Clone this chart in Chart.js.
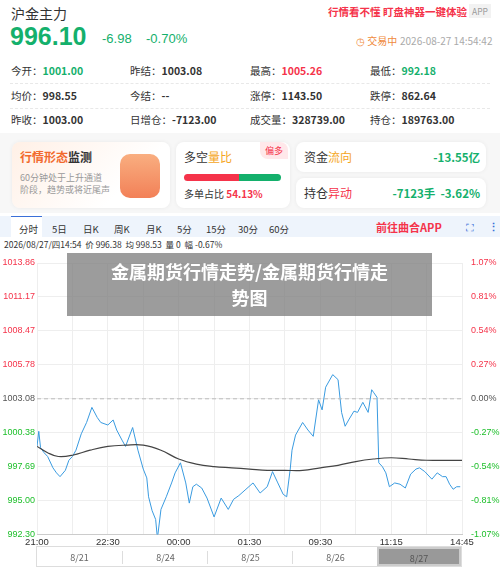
<!DOCTYPE html>
<html><head><meta charset="utf-8">
<script src="https://cdn.jsdelivr.net/npm/chart.js@4/dist/chart.umd.min.js"></script>
<style>
body{margin:0;width:500px;height:569px;background:#fff;font-family:"Noto Sans CJK SC","Noto Sans",sans-serif;position:relative;overflow:hidden;color:#333}
.a{position:absolute;white-space:nowrap}
.g{color:#14b06c}.r{color:#f5334a}
.st{font-size:10.5px;color:#333}.st b{font-weight:700}
.hr{position:absolute;left:10px;width:480px;border-top:1px dashed #e8e8e8}
.card{position:absolute;border-radius:8px;background:#fff;box-shadow:0 0 4px rgba(0,0,0,0.06)}
.tab{position:absolute;top:222px;font-size:9.5px;color:#333}
</style></head><body>
<div class="a" style="left:11px;top:3px;font-size:14px;color:#333">沪金主力</div>
<div class="a r" style="left:328px;top:4px;font-size:10.5px;font-weight:700">行情看不懂 盯盘神器一键体验</div>
<div class="a" style="left:469px;top:4px;font-size:8.5px;color:#999;background:#f2f2f2;padding:1px 3px">APP</div>
<div class="a g" style="left:10px;top:22px;font-size:25px;font-weight:700;font-family:'Liberation Sans'">996.10</div>
<div class="a g" style="left:102px;top:31px;font-size:13px;font-family:'Liberation Sans'">-6.98</div>
<div class="a g" style="left:146px;top:31px;font-size:13px;font-family:'Liberation Sans'">-0.70%</div>
<div class="a" style="left:356px;top:33px;font-size:10px;color:#f08a3c">&#9719; 交易中</div>
<div class="a" style="left:400px;top:33px;font-size:10px;color:#aaa">2026-08-27 14:54:42</div>
<div class="a st" style="left:11px;top:63px">今开：<b class="g">1001.00</b></div>
<div class="a st" style="left:130px;top:63px">昨结：<b>1003.08</b></div>
<div class="a st" style="left:250px;top:63px">最高：<b class="r">1005.26</b></div>
<div class="a st" style="left:370px;top:63px">最低：<b class="g">992.18</b></div>
<div class="hr" style="top:83px"></div>
<div class="a st" style="left:11px;top:88px">均价：<b>998.55</b></div>
<div class="a st" style="left:130px;top:88px">今结：<b>--</b></div>
<div class="a st" style="left:250px;top:88px">涨停：<b>1143.50</b></div>
<div class="a st" style="left:370px;top:88px">跌停：<b>862.64</b></div>
<div class="hr" style="top:108px"></div>
<div class="a st" style="left:11px;top:112px">昨收：<b>1003.00</b></div>
<div class="a st" style="left:130px;top:112px">日增仓：<b>-7123.00</b></div>
<div class="a st" style="left:250px;top:112px">成交量：<b>328739.00</b></div>
<div class="a st" style="left:370px;top:112px">持仓：<b>189763.00</b></div>
<div class="a" style="left:0;top:133px;width:500px;height:80px;background:#f7f7f7"></div>
<div class="card" style="left:12px;top:142px;width:158px;height:66px;background:linear-gradient(135deg,#fff0e6,#fff 70%)">
 <div class="a" style="left:8px;top:6px;font-size:12px;font-weight:700;color:#f26a2e">行情形态<span style="color:#333">监测</span></div>
 <div class="a" style="left:8px;top:30px;font-size:9px;color:#999;white-space:normal;width:90px;line-height:12px">60分钟处于上升通道阶段，趋势或将近尾声</div>
 <div class="a" style="left:108px;top:12px;width:40px;height:44px;border-radius:10px;background:linear-gradient(#f8a06a,#f06a3a);opacity:.85"></div>
</div>
<div class="card" style="left:176px;top:142px;width:114px;height:66px">
 <div class="a" style="left:8px;top:6px;font-size:12px;color:#333">多空<span style="color:#f5a623">量比</span></div>
 <div class="a" style="left:84px;top:0;font-size:9px;color:#f5334a;background:#ffe8ea;border-radius:0 8px 0 8px;padding:2px 5px">偏多</div>
 <div class="a" style="left:8px;top:32px;width:57px;height:7px;background:#f5334a;border-radius:4px 0 0 4px"></div>
 <div class="a" style="left:63px;top:32px;width:42px;height:7px;background:#14b06c;border-radius:0 4px 4px 0"></div>
 <div class="a" style="left:8px;top:44px;font-size:10px;color:#333">多单占比 <b class="r">54.13%</b></div>
</div>
<div class="card" style="left:296px;top:142px;width:190px;height:30px">
 <div class="a" style="left:8px;top:6px;font-size:12px;color:#333">资金<span style="color:#f5a623">流向</span></div>
 <div class="a g" style="right:6px;top:7px;font-size:11.5px;font-weight:700">-13.55亿</div>
</div>
<div class="card" style="left:296px;top:178px;width:190px;height:30px">
 <div class="a" style="left:8px;top:6px;font-size:12px;color:#333">持仓<span style="color:#f5334a">异动</span></div>
 <div class="a g" style="right:6px;top:7px;font-size:11.5px;font-weight:700">-7123手 &nbsp;-3.62%</div>
</div>
<div class="a" style="left:0;top:216px;width:500px;height:21px;background:#eef4fc"></div>
<div class="a" style="left:11px;top:216px;width:31px;height:21px;background:#fff;border-top:1px solid #3a6fd8"></div>
<div class="tab" style="left:19px">分时</div><div class="tab" style="left:52px">5日</div><div class="tab" style="left:83px">日K</div>
<div class="tab" style="left:114px">周K</div><div class="tab" style="left:146px">月K</div><div class="tab" style="left:177px">5分</div>
<div class="tab" style="left:206px">15分</div><div class="tab" style="left:238px">30分</div><div class="tab" style="left:269px">60分</div>
<div class="a r" style="left:376px;top:219px;font-size:11px;font-weight:700">前往曲合APP</div>
<div class="a" style="left:466px;top:219px;font-size:11px;color:#3a6fd8">⛶</div>
<div class="a" style="left:488px;top:218px;font-size:11px;color:#3a6fd8;font-weight:700">⋮</div>
<div class="a" style="left:4px;top:238px;font-size:8.5px;color:#333">2026/08/27/四14:54 &nbsp;价 996.38 &nbsp;均 998.53 &nbsp;量 0 &nbsp;幅 -0.67%</div>
<div class="a" style="left:0;top:252px;width:500px;height:298px"><canvas id="c" width="500" height="298"></canvas></div>
<div class="a" style="left:36px;top:546px;width:426px;height:21px;border:1px solid #ddd;box-sizing:border-box;font-size:9px;color:#666">
 <div class="a" style="left:0;top:4px;width:85px;text-align:center">8/21</div>
 <div class="a" style="left:85px;top:4px;width:85px;text-align:center;border-left:1px solid #ddd">8/24</div>
 <div class="a" style="left:170px;top:4px;width:85px;text-align:center;border-left:1px solid #ddd">8/25</div>
 <div class="a" style="left:255px;top:4px;width:85px;text-align:center;border-left:1px solid #ddd">8/26</div>
 <div class="a" style="left:340px;top:0;width:84px;height:19px;background:#999;border:2px solid #ccc;box-sizing:border-box;padding-top:3px;text-align:center;color:#555">8/27</div>
</div>
<div class="a" style="left:67px;top:253px;width:365px;height:63px;background:rgba(128,128,128,0.78);color:#fff;font-size:18px;font-weight:700;text-align:center;line-height:26px;padding-top:5px;box-sizing:border-box">金属期货行情走势/金属期货行情走<br>势图</div>
<script>
const timeLabels=["21:00","22:30","00:00","01:30","09:30","11:15","14:45"];
const prevClose=1003.08;
const yTicks=[1013.86,1011.17,1008.47,1005.78,1003.08,1000.38,997.69,995.00,992.30];
const pctTicks=["1.07%","0.81%","0.54%","0.27%","0.00%","-0.27%","-0.54%","-0.81%","-1.07%"];
const priceX=[0,1,2,4,6,9,11,13,16,18,20,22,25,28,31,34,36,40,43,45,48,50,54,57,60,62,63,65,67,68,70,73,76,78,81,84,86,88,90,93,96,100,104,108,111,114,118,122,126,130,133,136,139,141,143,144,146,150,153,156,159,161,163,167,170,172,174,176,179,181,184,187,189,190,192,193,195,197,199,202,205,208,211,214,216,219,223,226,229,231,233,235,237,239];
const priceY=[999.3,1000.5,999.2,998.8,998.5,997.6,997.2,996.9,997.4,998.2,998.5,999.0,1000.3,1001.2,1002.4,1001.6,1001.2,1001.0,1001.4,1000.6,999.8,999.3,1000.8,999.0,997.5,996.8,995.3,994.2,993.5,992.0,994.3,995.3,996.4,997.2,998.0,996.4,994.8,996.1,996.3,996.0,995.2,993.7,995.2,994.3,995.1,995.4,995.9,996.4,995.6,996.1,997.3,996.4,995.5,995.3,997.5,999.0,1000.2,1001.2,1000.6,1000.1,1003.0,1002.2,1004.0,1005.0,1004.6,1002.0,1000.9,1001.4,1002.1,1002.0,1002.8,1002.0,1003.8,1003.6,1003.2,998.0,997.7,997.2,996.1,996.4,996.3,996.0,997.1,997.5,997.6,997.3,996.7,997.2,996.9,996.9,996.3,995.9,996.1,996.1];
const avgX=[0,6,12,20,30,40,50,60,70,80,90,100,110,120,130,140,150,160,170,180,190,200,210,220,230,240];
const avgY=[999.3,998.8,998.5,998.6,999.0,999.3,999.4,999.4,999.0,998.3,997.9,997.7,997.6,997.5,997.4,997.4,997.4,997.6,997.8,998.1,998.3,998.4,998.3,998.2,998.2,998.2];
const pts=(xs,ys)=>xs.map((x,i)=>({x,y:ys[i]}));
const red='#f5334a',green='#1dbf2a',gray='#555';
const tickColor=v=>v>prevClose+0.001?red:(v<prevClose-0.001?green:gray);
new Chart(document.getElementById('c'),{
 type:'line',
 data:{datasets:[
  {data:[{x:0,y:prevClose},{x:240,y:prevClose}],borderColor:'#bbb',borderWidth:1,borderDash:[4,3],pointRadius:0,yAxisID:'y'},
  {data:pts(avgX,avgY),borderColor:'#444',borderWidth:1.2,pointRadius:0,tension:0.4,yAxisID:'y'},
  {data:pts(priceX,priceY),borderColor:'#3a9be0',borderWidth:1,pointRadius:0,tension:0,yAxisID:'y'}
 ]},
 options:{responsive:false,animation:false,
  layout:{padding:{top:11,bottom:0,left:0,right:0}},
  plugins:{legend:{display:false},tooltip:{enabled:false}},
  scales:{
   x:{type:'linear',min:0,max:240,
    afterBuildTicks:a=>{a.ticks=[];for(let i=0;i<=240;i+=20)a.ticks.push({value:i});},
    grid:{color:'#eee',drawTicks:false},border:{color:'#ccc'},
    ticks:{maxRotation:0,autoSkip:false,padding:2,color:'#333',font:{size:9.5,family:'Liberation Sans'},
     callback:v=>v%40===0?timeLabels[v/40]:''}},
   y:{position:'left',min:992.30,max:1013.86,
    afterBuildTicks:a=>{a.ticks=yTicks.map(v=>({value:v}));},
    afterFit:a=>{a.width=37;},
    grid:{color:'#eee',drawTicks:false},border:{display:false},
    ticks:{padding:2,font:{size:9,family:'Liberation Sans'},color:c=>tickColor(c.tick.value),callback:v=>v.toFixed(2)}},
   y2:{position:'right',min:992.30,max:1013.86,
    afterBuildTicks:a=>{a.ticks=yTicks.map(v=>({value:v}));},
    afterFit:a=>{a.width=38;},
    grid:{display:false},border:{display:false},
    ticks:{padding:1,font:{size:9,family:'Liberation Sans'},color:c=>tickColor(c.tick.value),callback:(v,i)=>pctTicks[i]}}
  }}
});
</script>
</body></html>
